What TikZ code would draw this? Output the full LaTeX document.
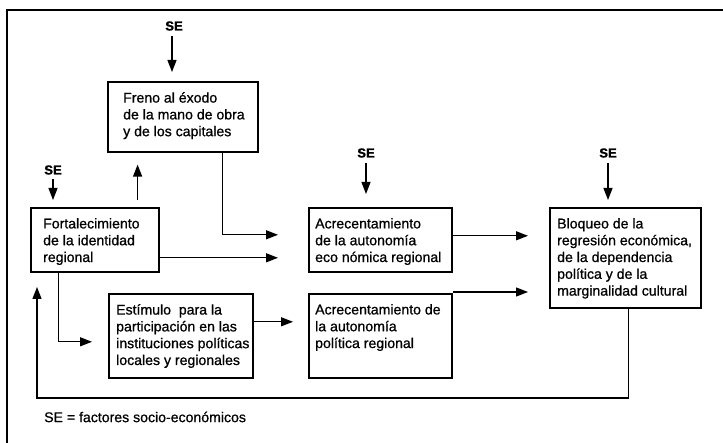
\documentclass[tikz,border=0pt]{standalone}
\usepackage{fontspec}
\setmainfont{Liberation Sans}[BoldFeatures={FakeBold=1.5}]
\newfontfamily\impreso{Liberation Sans}[FakeBold=0.8]
\usetikzlibrary{arrows.meta}

\tikzset{
	caja/.style={draw, line width=1.6pt, anchor=north west, inner sep=0pt},
	texto/.style={anchor=north west, align=left, inner sep=0pt, font=\impreso\fontsize{14.1}{16.8}\selectfont},
	flecha/.style={line width=1.3pt, -{Triangle[length=12pt,width=9pt]}},
	factor/.style={font=\bfseries\fontsize{13}{15}\selectfont, inner sep=1pt},
}

\begin{document}
\begin{tikzpicture}[x=1pt,y=-1pt]
	
	\useasboundingbox (0,0) rectangle (723,443);
	\draw[line width=1.3pt] (7,443) -- (7,10) -- (723,10);
	
	% cajas
	\node[caja, minimum width=150pt, minimum height=70pt,
		label={[texto, xshift=16pt, yshift=-11pt]north west:{Freno al éxodo\\de la mano de obra\\y de los capitales}}] (freno) at (107,81) {};
	\node[caja, minimum width=128pt, minimum height=64pt,
		label={[texto, xshift=13pt, yshift=-11pt]north west:{Fortalecimiento\\de la identidad\\regional}}] (fort) at (30,207) {};
	\node[caja, minimum width=143pt, minimum height=64pt,
		label={[texto, xshift=7pt, yshift=-11pt]north west:{Acrecentamiento\\de la autonomía\\eco nómica regional}}] (econ) at (308,207) {};
	\node[caja, minimum width=151pt, minimum height=100pt,
		label={[texto, xshift=8pt, yshift=-11pt]north west:{Bloqueo de la\\regresión económica,\\de la dependencia\\política y de la\\marginalidad cultural}}] (bloq) at (549,207) {};
	\node[caja, minimum width=144pt, minimum height=84pt,
		label={[texto, xshift=8pt, yshift=-11pt]north west:{Estímulo\ \ para la\\participación en las\\instituciones políticas\\locales y regionales}}] (estim) at (108,293) {};
	\node[caja, minimum width=143pt, minimum height=84pt,
		label={[texto, xshift=7pt, yshift=-11pt]north west:{Acrecentamiento de\\la autonomía\\política regional}}] (pol) at (308,293) {};
	
	% factores socio-economicos
	\node[factor] (se1) at (174,26) {SE};
	\node[factor] (se2) at (53,170) {SE};
	\node[factor] (se3) at (366,153) {SE};
	\node[factor] (se4) at (608,153) {SE};
	
	\draw[flecha, shorten <=4pt, shorten >=9pt] ([xshift=-2pt]se1.south) -- ([xshift=-2pt]se1.south |- freno.north);
	\draw[flecha, shorten <=3pt, shorten >=7pt] (se2.south) -- (se2.south |- fort.north);
	\draw[flecha, shorten <=4pt, shorten >=13pt] (se3.south) -- (se3.south |- econ.north);
	\draw[flecha, shorten <=4pt, shorten >=7pt] (se4.south) -- (se4.south |- bloq.north);
	
	% conexiones
	\draw[flecha, shorten <=7pt, shorten >=12pt] ([xshift=-22pt]fort.north east) -- ([xshift=-22pt]fort.north east |- freno.south);
	\draw[flecha, shorten >=30pt] ([xshift=40pt]freno.south) |- ([yshift=5pt]econ.west);
	\draw[flecha, shorten >=30pt] ([yshift=-18pt]fort.east) -- ([yshift=-18pt]econ.west);
	\draw[flecha, shorten >=16pt] ([xshift=-36pt]fort.south) |- ([yshift=-6pt]estim.west);
	\draw[flecha, shorten >=15pt] ([yshift=14pt]estim.east) -- ([yshift=14pt]pol.west);
	\draw[flecha, shorten >=21pt] ([yshift=4pt]econ.east) -- ([yshift=4pt]econ.east -| bloq.west);
	\draw[flecha, shorten >=21pt] ([yshift=1pt]pol.north east) -- ([yshift=1pt]pol.north east -| bloq.west);
	
	\coordinate (retorno) at (37,398);
	\coordinate (retornofin) at (37,287);
	\draw[flecha] ([xshift=3.5pt]bloq.south) |- (retorno) -- (retornofin);
	
	\node[anchor=west, inner sep=0pt, font=\impreso\fontsize{14.1}{16.8}\selectfont] (leyenda) at (44,417) {SE = factores socio-económicos};
	
\end{tikzpicture}
\end{document}
